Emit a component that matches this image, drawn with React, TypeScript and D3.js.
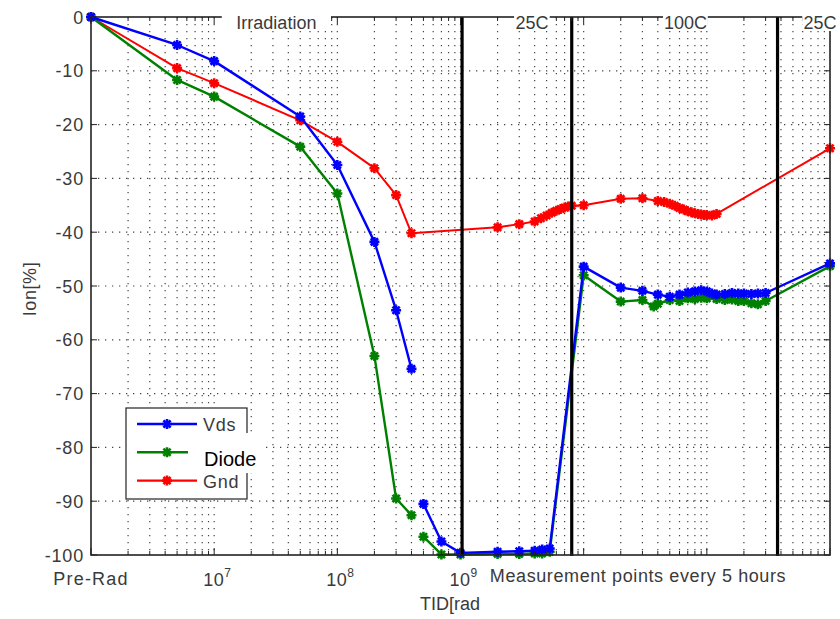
import React from "react";
import * as d3 from "d3";

// ---------- data ----------
const vdsTid = [1e6, 5e6, 1e7, 5e7, 1e8, 2e8, 3e8, 4e8, 4.5e8, 5e8, 7e8, 1e9, 2e9, 3e9, 4e9, 4.6e9, 5.3e9, 1e10, 2e10, 3e10, 4e10, 5e10, 6e10, 7e10, 8e10, 9e10, 1e11, 1.1e11, 1.2e11, 1.4e11, 1.6e11, 1.8e11, 2e11, 2.3e11, 2.6e11, 3e11, 1e12];
const vdsIon = [0, -5.2, -8.2, -18.5, -27.5, -41.8, -54.5, -65.4, null, -90.5, -97.5, -99.6, -99.4, -99.3, -99.2, -99.0, -98.8, -46.4, -50.3, -50.9, -51.6, -52.0, -51.6, -51.2, -51.0, -50.8, -51.0, -51.4, -51.6, -51.5, -51.3, -51.4, -51.4, -51.5, -51.4, -51.3, -45.8];

const diodeTid = [1e6, 5e6, 1e7, 5e7, 1e8, 2e8, 3e8, 4e8, 4.5e8, 5e8, 7e8, 1e9, 2e9, 3e9, 4e9, 4.6e9, 5.3e9, 1e10, 2e10, 3e10, 3.7e10, 4e10, 5e10, 6e10, 7e10, 8e10, 9e10, 1e11, 1.2e11, 1.4e11, 1.6e11, 1.8e11, 2e11, 2.3e11, 2.6e11, 3e11, 1e12];
const diodeIon = [0, -11.7, -14.8, -24.1, -32.8, -63, -89.5, -92.6, null, -96.6, -99.9, -99.9, -99.8, -99.8, -99.7, -99.7, -99.4, -48.0, -52.9, -52.6, -53.8, -53.3, -52.6, -52.8, -52.3, -52.4, -52.2, -52.3, -52.4, -52.6, -52.5, -52.8, -52.8, -53.2, -53.4, -52.8, -46.3];

const gndTid = [1e6, 5e6, 1e7, 5e7, 1e8, 2e8, 3e8, 4e8, 2e9, 3e9, 4e9, 4.5e9, 5e9, 5.5e9, 6e9, 6.5e9, 7e9, 7.5e9, 8e9, 1e10, 2e10, 3e10, 4e10, 4.5e10, 5e10, 5.5e10, 6e10, 6.5e10, 7e10, 7.5e10, 8e10, 8.5e10, 9e10, 9.5e10, 1e11, 1.1e11, 1.2e11, 1e12];
const gndIon = [0, -9.5, -12.3, -19.2, -23.2, -28.1, -33.1, -40.2, -39.1, -38.5, -38.0, -37.4, -36.9, -36.4, -36.0, -35.7, -35.4, -35.2, -35.1, -35.0, -33.8, -33.7, -34.2, -34.4, -34.7, -35.1, -35.5, -35.8, -36.1, -36.3, -36.5, -36.6, -36.7, -36.8, -36.8, -36.9, -36.6, -24.4];

const seriesNames = ["Vds", "Diode", "Gnd"];
const seriesColors = ["#0000ff", "#008000", "#ff0000"];

const yTicks = [0, -10, -20, -30, -40, -50, -60, -70, -80, -90, -100];
const xLabelTicks = [1e6, 1e7, 1e8, 1e9];
const xLabelExp = ["", "7", "8", "9"];
const phaseLineTid = [1.03e9, 8e9, 3.75e11];
const phaseLabels = ["Irradiation", "25C", "100C", "25C"];
const phaseLabelTid = [3.2e7, 3.8e9, 6.7e10, 8.3e11];

// ---------- layout ----------
const W = 840, H = 619;
const L = 91, R = 830, T = 17, B = 555;
const FONT = "'Liberation Sans', Arial, sans-serif";

const x = d3.scaleLog().domain([1e6, 1e12]).range([L, R]);
const y = d3.scaleLinear().domain([-100, 0]).range([B, T]);

const minorTicks: number[] = [];
for (let k = 6; k < 12; k++) for (let m = 1; m <= 9; m++) minorTicks.push(m * Math.pow(10, k));
minorTicks.push(1e12);

const STAR = "M-5,0H5M0,-5V5M-3.6,-3.6L3.6,3.6M-3.6,3.6L3.6,-3.6";

function Series({ tid, ion, color, width }: { tid: number[]; ion: (number | null)[]; color: string; width: number }) {
  const pts = tid.map((t, i) => [t, ion[i]] as [number, number | null]);
  const line = d3
    .line<[number, number | null]>()
    .defined((d) => d[1] !== null)
    .x((d) => x(d[0]))
    .y((d) => y(d[1] as number));
  return (
    <g>
      <path d={line(pts) || ""} fill="none" stroke={color} strokeWidth={width} strokeLinejoin="round" />
      {pts
        .filter((d) => d[1] !== null)
        .map((d, i) => (
          <path key={i} d={STAR} transform={`translate(${x(d[0])},${y(d[1] as number)})`} stroke={color} strokeWidth={2.6} fill="none" />
        ))}
    </g>
  );
}

export default function App() {
  const gridColor = "#444";
  const textColor = "#3a3a3a";
  return (
    <svg width={W} height={H} style={{ display: "block", position: "absolute", left: 0, top: 0, background: "#fff" }} fontFamily={FONT}>
      <rect x={0} y={0} width={W} height={H} fill="#fff" />
      {/* grid */}
      <g stroke={gridColor} strokeWidth={1.2} strokeDasharray="1.3,5.7">
        {minorTicks
          .filter((t) => t > 1e6 && t < 1e12)
          .map((t, i) => (
            <line key={"v" + i} x1={x(t)} x2={x(t)} y1={T} y2={B} />
          ))}
        {yTicks
          .filter((v) => v !== 0 && v !== -100)
          .map((v) => (
            <line key={"h" + v} x1={L} x2={R} y1={y(v)} y2={y(v)} />
          ))}
      </g>
      {/* series */}
      <Series tid={gndTid} ion={gndIon} color={seriesColors[2]} width={2} />
      <Series tid={diodeTid} ion={diodeIon} color={seriesColors[1]} width={2.4} />
      <Series tid={vdsTid} ion={vdsIon} color={seriesColors[0]} width={2.4} />
      {/* phase lines */}
      {phaseLineTid.map((t, i) => (
        <line key={"p" + i} x1={x(t)} x2={x(t)} y1={T} y2={B + 1} stroke="#000" strokeWidth={3.2} />
      ))}
      {/* axes box */}
      <rect x={L} y={T} width={R - L} height={B - T} fill="none" stroke="#222" strokeWidth={1.6} />
      {/* ticks */}
      <g stroke="#222" strokeWidth={1}>
        {minorTicks.map((t, i) => {
          const major = Math.abs(Math.log10(t) - Math.round(Math.log10(t))) < 1e-9;
          const len = major ? 7 : 4;
          return (
            <g key={"t" + i}>
              <line x1={x(t)} x2={x(t)} y1={B} y2={B - len} />
              <line x1={x(t)} x2={x(t)} y1={T} y2={T + len} />
            </g>
          );
        })}
        {yTicks.map((v) => (
          <g key={"yt" + v}>
            <line x1={L} x2={L + 6} y1={y(v)} y2={y(v)} />
            <line x1={R} x2={R - 6} y1={y(v)} y2={y(v)} />
          </g>
        ))}
      </g>
      {/* y tick labels */}
      <g fill={textColor} fontSize={18} textAnchor="end" letterSpacing={0.8}>
        {yTicks.map((v) => (
          <text key={"yl" + v} x={L - 7} y={y(v) + 6.5}>
            {String(v)}
          </text>
        ))}
      </g>
      {/* x tick labels */}
      <g fill={textColor} fontSize={18}>
        {xLabelTicks.map((t, i) =>
          i === 0 ? (
            <text key="pr" x={x(t)} y={585} textAnchor="middle" letterSpacing={1.2}>
              Pre-Rad
            </text>
          ) : (
            <text key={"xl" + i} x={x(t) - 11} y={586} letterSpacing={0.5}>
              10
              <tspan fontSize={12} dy={-9}>
                {xLabelExp[i]}
              </tspan>
            </text>
          )
        )}
        <text x={638} y={582} textAnchor="middle" letterSpacing={0.6}>
          Measurement points every 5 hours
        </text>
        <text x={450} y={610} textAnchor="middle">
          TID[rad
        </text>
        <text transform={`translate(36,${(T + B) / 2 + 3}) rotate(-90)`} textAnchor="middle" letterSpacing={0.6}>
          Ion[%]
        </text>
      </g>
      {/* phase labels */}
      {phaseLabels.map((s, i) => {
        const cx = x(phaseLabelTid[i]);
        const w = s.length * 9.2 + 8;
        return (
          <g key={"pl" + i}>
            <rect x={cx - w / 2} y={8} width={w} height={23} fill="#fff" />
            <text x={cx} y={29} textAnchor="middle" fontSize={18} fill={textColor}>
              {s}
            </text>
          </g>
        );
      })}
      {/* legend */}
      <g>
        <rect x={126} y={408} width={121} height={91} fill="#fff" stroke="#222" strokeWidth={1.2} />
        {seriesNames.map((n, i) => {
          const ly = 424 + i * 28.3;
          return (
            <g key={"lg" + i}>
              <line x1={137} x2={197} y1={ly} y2={ly} stroke={seriesColors[i]} strokeWidth={2.4} />
              <path d={STAR} transform={`translate(167,${ly})`} stroke={seriesColors[i]} strokeWidth={2.6} fill="none" />
              {i !== 1 && (
                <text x={203} y={ly + 7} fontSize={18} fill={textColor} letterSpacing={0.8}>
                  {n}
                </text>
              )}
            </g>
          );
        })}
        <rect x={188} y={433} width={74} height={40} fill="#fff" />
        <text x={204} y={466} fontSize={20} fill="#000">
          {seriesNames[1]}
        </text>
      </g>
    </svg>
  );
}
